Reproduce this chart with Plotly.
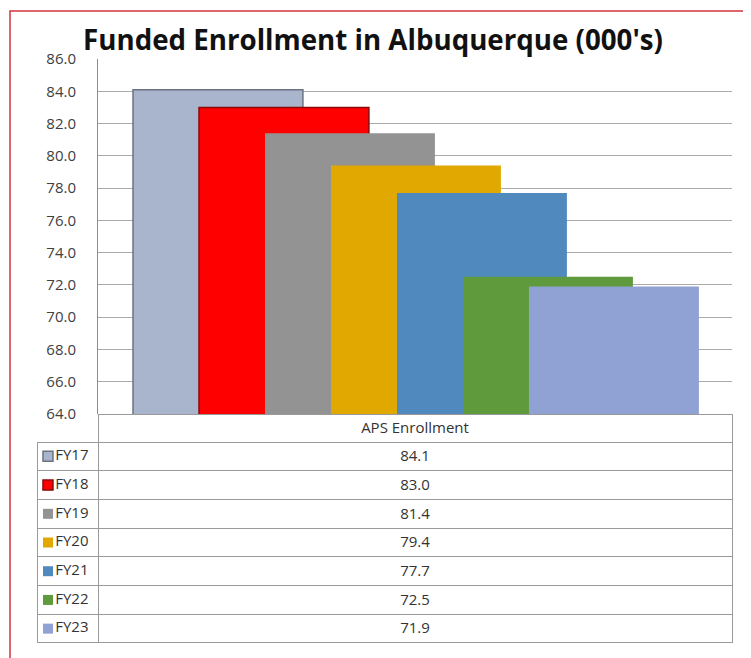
import plotly.graph_objects as go

W, H = 751, 658
OFF = 8  # page body margin
Wf, Hf = W - OFF, H - OFF

category = "APS Enrollment"
series = ["FY17", "FY18", "FY19", "FY20", "FY21", "FY22", "FY23"]
values = [84.1, 83.0, 81.4, 79.4, 77.7, 72.5, 71.9]
colors = ["#a9b5cd", "#ff0000", "#939393", "#e0a800", "#4f89be", "#5f9b3d", "#8fa2d3"]
outlines = ["#6d7380", "#8a0a0a", "#939393", "#e0a800", "#4f89be", "#5f9b3d", "#8fa2d3"]
outline_w = [1.5, 1.5, 0, 0, 0, 0, 0]
y_ticks = [64, 66, 68, 70, 72, 74, 76, 78, 80, 82, 84, 86]

FONT = "Open Sans, Liberation Sans, sans-serif"


def px_x(p):
    return (p - OFF) / Wf


def px_y(p):
    return 1 - (p - OFF) / Hf


fig = go.Figure()

bar_width = 0.268
step = 0.1041
first_offset = -0.4448
for i, (name, v, c) in enumerate(zip(series, values, colors)):
    fig.add_trace(go.Bar(
        x=[category], y=[v], name=name,
        width=[bar_width], offset=[first_offset + i * step],
        marker=dict(color=c, line=dict(color=outlines[i], width=outline_w[i])),
        showlegend=False, hoverinfo="skip",
    ))

# legend keys for data table rows
fig.add_trace(go.Scatter(
    x=[0.18] * len(series), y=series, xaxis="x2", yaxis="y2",
    mode="markers+text", text=series, textposition="middle right",
    textfont=dict(family=FONT, size=15, color="#333333"),
    marker=dict(symbol="square", size=10, color=colors,
                line=dict(color=outlines, width=[1.5 if w else 0 for w in outline_w])),
    showlegend=False, hoverinfo="skip", cliponaxis=False,
))

val_cells = [f"{v:.1f}" for v in values]

fig.add_trace(go.Table(
    domain=dict(x=[px_x(37), px_x(732)], y=[px_y(643), px_y(414)]),
    columnwidth=[61, 634],
    header=dict(
        values=["", category],
        fill=dict(color=["rgba(0,0,0,0)", "rgba(0,0,0,0)"]),
        line=dict(color=["rgba(0,0,0,0)", "#9a9a9a"], width=1),
        font=dict(family=FONT, size=15, color="#333333"),
        align=["left", "center"], height=28,
    ),
    cells=dict(
        values=[[""] * len(series), val_cells],
        fill=dict(color="rgba(0,0,0,0)"),
        line=dict(color="#9a9a9a", width=1),
        font=dict(family=FONT, size=15, color="#333333"),
        align=["left", "center"], height=28.7,
    ),
))

fig.update_layout(
    width=Wf, height=Hf,
    margin=dict(l=0, r=0, t=0, b=0),
    paper_bgcolor="white", plot_bgcolor="rgba(0,0,0,0)",
    barmode="overlay",
    title=dict(
        text="<b>Funded Enrollment in Albuquerque (000's)</b>",
        x=px_x(373), xanchor="center", y=px_y(40), yanchor="middle",
        font=dict(family=FONT, size=27.7, color="#111111"),
    ),
    xaxis=dict(domain=[px_x(98), px_x(732)], range=[-0.5, 0.5], automargin=False,
               showticklabels=False, showgrid=False, zeroline=False, fixedrange=True),
    yaxis=dict(domain=[px_y(414), px_y(59)], range=[64, 86], automargin=False,
               tickvals=y_ticks, ticktext=[f"{t:.1f}" for t in y_ticks],
               showgrid=True, gridcolor="#ababab", gridwidth=1,
               showline=True, linecolor="#8c8c8c", linewidth=1,
               ticklabelstandoff=18, zeroline=False,
               tickfont=dict(family=FONT, size=15, color="#404040")),
    xaxis2=dict(domain=[px_x(37), px_x(98)], range=[0, 1], anchor="y2", automargin=False,
                visible=False, fixedrange=True),
    yaxis2=dict(domain=[px_y(643), px_y(442)], range=[6.5, -0.5], anchor="x2", automargin=False,
                type="category", categoryorder="array", categoryarray=series,
                visible=False, fixedrange=True),
    shapes=[dict(type="rect", xref="paper", yref="paper",
                 x0=px_x(10), x1=1.05, y0=-0.05, y1=px_y(11),
                 line=dict(color="#d0343c", width=1.5), fillcolor="rgba(0,0,0,0)", layer="above")],
)

fig.write_html("out.html")
